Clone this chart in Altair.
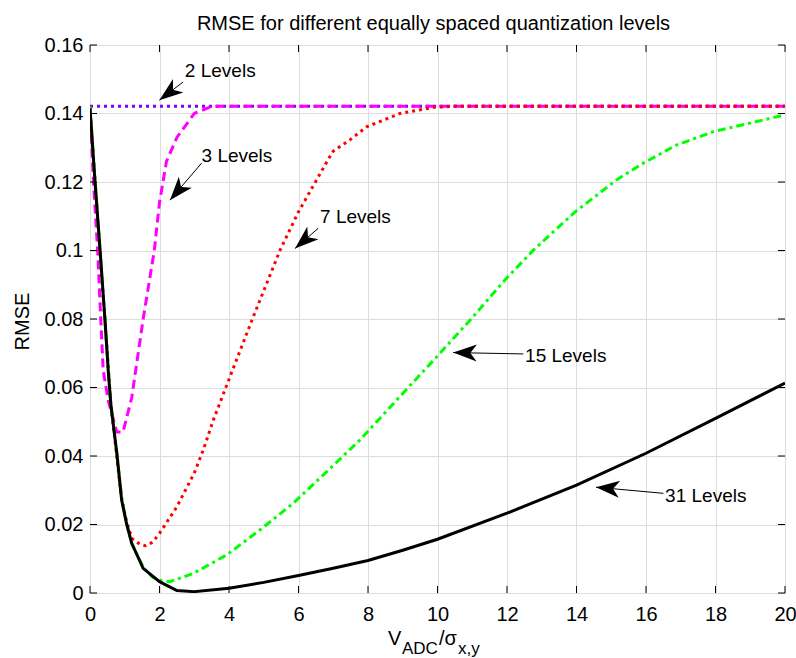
import math
import altair as alt
import pandas as pd

# ---------------- data ----------------
x_ticks = [0, 2, 4, 6, 8, 10, 12, 14, 16, 18, 20]
y_ticks = [0, 0.02, 0.04, 0.06, 0.08, 0.1, 0.12, 0.14, 0.16]

lv2_x = [0, 20]
lv2_y = [0.1421, 0.1421]

lv3_x = [0, 0.1, 0.22, 0.3, 0.38, 0.53, 0.77, 0.95, 1.2, 1.3, 1.53, 1.85, 2.0, 2.2,
         2.5, 3.0, 3.5, 20]
lv3_y = [0.142, 0.12, 0.1, 0.082, 0.065, 0.056, 0.047, 0.047, 0.057, 0.064, 0.08,
         0.1, 0.114, 0.126, 0.133, 0.140, 0.1421, 0.1421]

lv7_x = [0, 0.28, 0.45, 0.6, 0.77, 0.9, 1.05, 1.2, 1.44, 1.6, 1.8, 2.0, 2.5, 3.0,
         3.26, 3.55, 4.03, 4.7, 5.47, 6.0, 6.52, 6.9, 7.0, 7.48, 7.96, 8.92, 9.88,
         10.5, 20]
lv7_y = [0.142, 0.1, 0.077, 0.055, 0.04, 0.028, 0.021, 0.016, 0.0142, 0.0138,
         0.0148, 0.0174, 0.0252, 0.035, 0.0418, 0.0505, 0.0632, 0.0807, 0.1001,
         0.1113, 0.1206, 0.1274, 0.129, 0.1323, 0.1361, 0.140, 0.1418, 0.1421, 0.1421]

lv15_x = [0, 0.29, 0.6, 0.77, 0.91, 1.05, 1.2, 1.53, 1.8, 2.0, 2.3, 2.97, 3.93,
          4.89, 5.85, 6.81, 7.77, 8.83, 9.98, 10.94, 11.94, 12.76, 13.96, 14.4,
          15.15, 15.92, 16.88, 17.94, 20]
lv15_y = [0.142, 0.1, 0.055, 0.041, 0.028, 0.0203, 0.0145, 0.0075, 0.0046, 0.0037,
          0.0033, 0.0057, 0.0111, 0.0184, 0.0262, 0.0354, 0.0447, 0.0564, 0.069,
          0.0797, 0.0914, 0.1001, 0.1113, 0.1147, 0.1206, 0.1255, 0.1308, 0.1347,
          0.1396]

lv31_x = [0, 0.14, 0.29, 0.43, 0.53, 0.6, 0.77, 0.91, 1.05, 1.2, 1.53, 2.0, 2.5,
          3.0, 4.0, 5.0, 6.0, 7.0, 8.0, 9.0, 10, 12, 14, 16, 18, 20]
lv31_y = [0.1415, 0.1206, 0.1001, 0.0799, 0.0641, 0.055, 0.041, 0.0272, 0.0203,
          0.0145, 0.0072, 0.0033, 0.0007, 0.0004, 0.0014, 0.0031, 0.0051,
          0.0072, 0.0095, 0.0125, 0.0157, 0.0233, 0.0315, 0.0408, 0.051, 0.0613]

ann_text = ["2 Levels", "3 Levels", "7 Levels", "15 Levels", "31 Levels"]
ann_tip_x = [1.995, 2.30, 5.90, 10.45, 14.56]
ann_tip_y = [0.1439, 0.1147, 0.1006, 0.0702, 0.0309]
ann_tail_x = [2.68, 3.21, 6.57, 12.47, 16.50]
ann_tail_y = [0.1492, 0.1255, 0.1065, 0.0698, 0.0291]
ann_label_x = [2.73, 3.21, 6.62, 12.52, 16.55]
ann_label_y = [0.1506, 0.1259, 0.1080, 0.0674, 0.0267]

title_text = "RMSE for different equally spaced quantization levels"

# ---------------- layout ----------------
W, H = 695, 548
X_MAX, Y_MAX = 20, 0.16
FONT = "Liberation Sans"
FS = 20

xscale = alt.Scale(domain=[0, X_MAX], nice=False, zero=False)
yscale = alt.Scale(domain=[0, Y_MAX], nice=False, zero=False)
xaxis = alt.Axis(values=x_ticks, title=None, grid=True, ticks=False, domain=False,
                 labelFontSize=FS, labelFont=FONT, labelColor="black",
                 labelPadding=11, labelFlush=False, format="~g")
yaxis = alt.Axis(values=y_ticks, title="RMSE", grid=True, ticks=False, domain=False,
                 labelFontSize=FS, labelFont=FONT, labelColor="black",
                 labelPadding=7, format="~g", titleFont=FONT, titleFontSize=FS,
                 titleFontWeight="normal", titleColor="black", titleAngle=270,
                 titleX=-68, titleY=H / 2 + 2, titleAlign="center",
                 titleBaseline="middle")


def X(field):
    return alt.X(field, type="quantitative", scale=xscale, axis=xaxis)


def Y(field):
    return alt.Y(field, type="quantitative", scale=yscale, axis=yaxis)


def line(xs, ys, color, dash=None, width=3):
    df = pd.DataFrame({"x": xs, "y": ys})
    kw = dict(color=color, strokeWidth=width, strokeCap="butt", clip=True)
    if dash:
        kw["strokeDash"] = dash
    return alt.Chart(df).mark_line(**kw).encode(x=X("x"), y=Y("y"))


layers = []
layers.append(line(lv2_x, lv2_y, "#7F00FF", [3, 4]))
layers.append(line(lv3_x, lv3_y, "#FF00FF", [9, 5]))
layers.append(line(lv7_x, lv7_y, "#FF0000", [3, 4]))
layers.append(line(lv15_x, lv15_y, "#00FF00", [8, 4, 3, 4]))
layers.append(line(lv31_x, lv31_y, "#000000", None))

# inward ticks on all four sides
xt = pd.DataFrame({"x": x_ticks})
yt = pd.DataFrame({"y": y_ticks})
TL = 7
layers.append(alt.Chart(xt).mark_rule(color="black", strokeWidth=1).encode(
    x=X("x"), y=alt.value(H), y2=alt.value(H - TL)))
layers.append(alt.Chart(xt).mark_rule(color="black", strokeWidth=1).encode(
    x=X("x"), y=alt.value(0), y2=alt.value(TL)))
layers.append(alt.Chart(yt).mark_rule(color="black", strokeWidth=1).encode(
    y=Y("y"), x=alt.value(0), x2=alt.value(TL)))
layers.append(alt.Chart(yt).mark_rule(color="black", strokeWidth=1).encode(
    y=Y("y"), x=alt.value(W), x2=alt.value(W - TL)))

# annotations (text arrows)
px_x = W / X_MAX
px_y = H / Y_MAX
angles = []
for tx, ty, sx, sy in zip(ann_tip_x, ann_tip_y, ann_tail_x, ann_tail_y):
    dx = (tx - sx) * px_x
    dy = -(ty - sy) * px_y
    angles.append(math.degrees(math.atan2(dy, dx)) % 360)

ann = pd.DataFrame({
    "text": ann_text,
    "tip_x": ann_tip_x, "tip_y": ann_tip_y,
    "tail_x": ann_tail_x, "tail_y": ann_tail_y,
    "lx": ann_label_x, "ly": ann_label_y,
    "ang": angles,
})

ARROW = "M0,0 L-2,-0.72 L-1.45,0 L-2,0.72 Z"

layers.append(alt.Chart(ann).mark_rule(color="black", strokeWidth=1).encode(
    x=X("tail_x"), y=Y("tail_y"), x2="tip_x", y2="tip_y"))
layers.append(alt.Chart(ann).mark_point(shape=ARROW, filled=True, color="black",
                                        opacity=1, strokeWidth=0, size=560).encode(
    x=X("tip_x"), y=Y("tip_y"), angle=alt.Angle("ang:Q", scale=None)))
layers.append(alt.Chart(ann).mark_text(font=FONT, fontSize=19, align="left",
                                       baseline="alphabetic", color="black").encode(
    x=X("lx"), y=Y("ly"), text="text:N"))

# single-row source for free-standing texts
one = pd.DataFrame({"k": [0]})

# chart title
layers.append(alt.Chart(one).mark_text(text=title_text, font=FONT, fontSize=20,
                                       align="center", baseline="alphabetic",
                                       color="black").encode(
    x=alt.value(W / 2 - 4), y=alt.value(-15)))

# x-axis title composed of pieces (V_ADC / sigma_x,y)
xt_parts = [("V", 298, 600, 20), ("ADC", 312, 609, 17), ("/σ", 349, 600, 20),
            ("x,y", 368, 609, 17)]
for txt, px, py, fs in xt_parts:
    layers.append(alt.Chart(one).mark_text(text=txt, font=FONT, fontSize=fs,
                                           align="left", baseline="alphabetic",
                                           color="black").encode(
        x=alt.value(px), y=alt.value(py)))

chart = alt.layer(*layers).properties(
    width=W, height=H,
    autosize=alt.AutoSizeParams(type="none"),
    padding={"left": 90, "top": 45, "right": 11, "bottom": 65},
).configure_view(stroke="black", strokeWidth=1).configure_axis(
    gridColor="#000000", gridDash=[1, 2], gridWidth=1.2, gridOpacity=1
).configure(background="white")

chart.save("out.html", embed_options={"renderer": "svg", "actions": False})
